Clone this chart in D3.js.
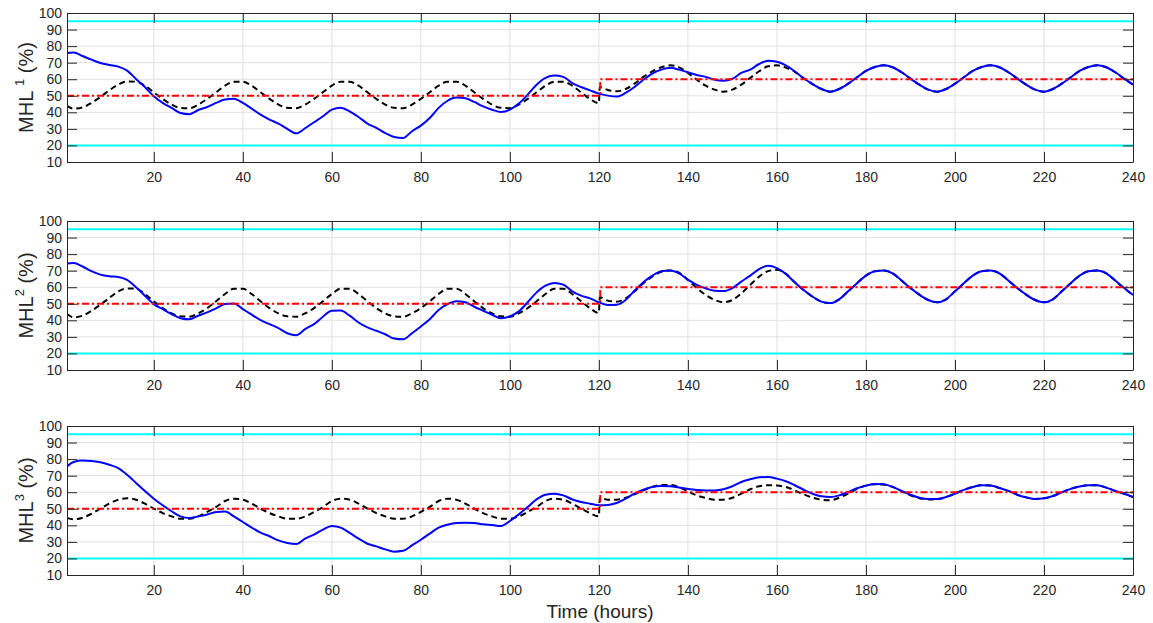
<!DOCTYPE html>
<html>
<head>
<meta charset="utf-8">
<script src="https://cdn.jsdelivr.net/npm/d3@7"></script>
<style>
body { margin: 0; background: #fff; }
svg { display: block; font-family: "Liberation Sans", Arial, sans-serif; }
.axis .domain { stroke: #262626; }
.axis line { stroke: #262626; }
.axis text { fill: #262626; font-size: 14px; font-family: "Liberation Sans", Arial, sans-serif; }
</style>
</head>
<body>
<script>
// sample times (hours) for the measured curves
var hours = [0.5, 2, 4, 6, 8, 10, 12, 14, 16, 18,
    20, 22, 24, 26, 28, 30, 32, 34, 36, 38,
    40, 42, 44, 46, 48, 50, 52, 54, 56, 58,
    60, 62, 64, 66, 68, 70, 72, 74, 76, 78,
    80, 82, 84, 86, 88, 90, 92, 94, 96, 98,
    100, 102, 104, 106, 108, 110, 112, 114, 116, 118,
    120, 122, 124, 126, 128, 130, 132, 134, 136, 138,
    140, 142, 144, 146, 148, 150, 152, 154, 156, 158,
    160, 162, 164, 166, 168, 170, 172, 174, 176, 178,
    180, 182, 184, 186, 188, 190, 192, 194, 196, 198,
    200, 202, 204, 206, 208, 210, 212, 214, 216, 218,
    220, 222, 224, 226, 228, 230, 232, 234, 236, 238,
    240];

// the reference trajectories jump at t = 120, so they get one extra sample
var refHours = [0.5, 2, 4, 6, 8, 10, 12, 14, 16, 18,
    20, 22, 24, 26, 28, 30, 32, 34, 36, 38,
    40, 42, 44, 46, 48, 50, 52, 54, 56, 58,
    60, 62, 64, 66, 68, 70, 72, 74, 76, 78,
    80, 82, 84, 86, 88, 90, 92, 94, 96, 98,
    100, 102, 104, 106, 108, 110, 112, 114, 116, 118,
    120, 120.2, 122, 124, 126, 128, 130, 132, 134, 136, 138,
    140, 142, 144, 146, 148, 150, 152, 154, 156, 158,
    160, 162, 164, 166, 168, 170, 172, 174, 176, 178,
    180, 182, 184, 186, 188, 190, 192, 194, 196, 198,
    200, 202, 204, 206, 208, 210, 212, 214, 216, 218,
    220, 222, 224, 226, 228, 230, 232, 234, 236, 238,
    240];

// MHL 1
var mhl1Actual = [75.9, 76.2, 74, 71.8, 69.8, 68.6, 67.6, 65.2, 60.2, 55.3,
    49.7, 45.7, 42.7, 39.6, 38.9, 41.4, 43.2, 45.7, 47.7, 48.2,
    45.7, 42.2, 38.6, 35.6, 33.2, 30, 27.3, 30.4, 34, 37.6,
    41.6, 42.8, 40.6, 37.2, 33.2, 30.6, 27.5, 25.1, 24.5, 28.6,
    32, 36.6, 42.7, 47, 48.9, 48.5, 46.3, 43.6, 41.6, 40.2,
    41.6, 45.3, 50.7, 56.7, 60.8, 62.2, 61.4, 57.7, 55.3, 53.3,
    51.3, 50.1, 49.5, 51.7, 55.3, 59.7, 63.4, 65.8, 67, 65.8,
    64.2, 62.6, 61.4, 59.7, 59.1, 60.3, 63.8, 65.8, 69.2, 71.2,
    70.6, 68.4, 64.8, 60.6, 57.1, 54.1, 52.5, 54.1, 57.3, 61.2,
    65, 67.4, 68.4, 67.2, 64.2, 60.4, 56.7, 53.7, 52.5, 54.1,
    57.3, 61.2, 65, 67.4, 68.4, 67.2, 64.2, 60.4, 56.7, 53.7,
    52.5, 54.1, 57.3, 61.2, 65, 67.4, 68.4, 67.2, 64.2, 60.4,
    56.7];
var mhl1Ref = [44, 42.2, 43, 45.7, 49.3, 53.3, 56.7, 58.7, 58.5, 56.1,
    52.1, 48.1, 44.7, 42.7, 42.5, 44.7, 48.1, 52.1, 56.1, 58.5,
    58.5, 56.1, 52.1, 48.1, 44.7, 42.7, 42.5, 44.7, 48.1, 52.1,
    56.1, 58.5, 58.5, 56.1, 52.1, 48.1, 44.7, 42.7, 42.5, 44.7,
    48.1, 52.1, 56.1, 58.5, 58.5, 56.1, 52.1, 48.1, 44.7, 42.7,
    42.5, 44.7, 48.1, 52.1, 56.1, 58.5, 58.5, 56.1, 52.1, 48.1,
    45.5, 55.3, 53.5, 52.7, 54.1, 57.3, 61.4, 64.8, 67.2, 68.4, 67.2,
    63.8, 59.7, 56.1, 53.7, 52.5, 53.7, 56.7, 60.8, 64.8, 67.8,
    68.4, 67, 64.5, 60.6, 57.1, 54.1, 52.5, 54.1, 57.3, 61.2,
    65, 67.4, 68.4, 67.2, 64.2, 60.4, 56.7, 53.7, 52.5, 54.1,
    57.3, 61.2, 65, 67.4, 68.4, 67.2, 64.2, 60.4, 56.7, 53.7,
    52.5, 54.1, 57.3, 61.2, 65, 67.4, 68.4, 67.2, 64.2, 60.4,
    56.7];

// MHL 2
var mhl2Actual = [74.3, 74.6, 72.5, 69.7, 67.6, 66.6, 66.2, 64.4, 60, 54.9,
    49.8, 46.8, 43.8, 41.3, 40.6, 42.8, 44.8, 47.2, 49.8, 50.2,
    46.8, 43.4, 40.1, 37.7, 35.3, 32.2, 31, 34.7, 37.7, 42.2,
    45.8, 45.9, 42.8, 38.7, 35.7, 33.7, 31.6, 29, 28.5, 32.2,
    36.3, 40.7, 46.2, 49.8, 51.5, 50.9, 48.2, 45.8, 43.4, 41.3,
    42.4, 45.4, 50.9, 56.9, 61, 62.6, 61.6, 57.5, 54.9, 53.3,
    50.9, 49.2, 49.4, 52.3, 57.9, 63, 67, 69.7, 70.1, 68.4,
    64.6, 61.4, 59.3, 57.9, 57.7, 59.5, 63.4, 67, 71, 72.9,
    71.5, 68, 63, 58.3, 54.3, 51.3, 50.4, 52.7, 57.5, 62.4,
    67, 69.7, 70.1, 68.4, 64, 59.5, 55.5, 52.3, 50.9, 52.7,
    57.5, 62.4, 67, 69.7, 70.1, 68.4, 64, 59.5, 55.5, 52.3,
    50.9, 52.7, 57.5, 62.4, 67, 69.7, 70.1, 68.4, 64, 59.5,
    55.3];
var mhl2Ref = [43.8, 41.8, 42.8, 45.8, 49.4, 53.5, 57.5, 59.3, 59.1, 55.9,
    51.5, 47.4, 44.2, 42.4, 42.2, 44.2, 47.4, 51.5, 55.9, 59.1,
    59.1, 55.9, 51.5, 47.4, 44.2, 42.4, 42.2, 44.2, 47.4, 51.5,
    55.9, 59.1, 59.1, 55.9, 51.5, 47.4, 44.2, 42.4, 42.2, 44.2,
    47.4, 51.5, 55.9, 59.1, 59.1, 55.9, 51.5, 47.4, 44.2, 42.4,
    42.2, 44.2, 47.4, 51.5, 55.9, 59.1, 59.1, 55.9, 51.5, 47.4,
    44.4, 53.9, 51.9, 51.3, 53.3, 57.5, 62.4, 66.4, 69.3, 70.1, 68.8,
    64.4, 59.5, 55.3, 52.3, 50.9, 52.3, 56.3, 61.4, 66.4, 69.7,
    70.5, 68.2, 63, 58.3, 54.3, 51.3, 50.4, 52.7, 57.5, 62.4,
    67, 69.7, 70.1, 68.4, 64, 59.5, 55.5, 52.3, 50.9, 52.7,
    57.5, 62.4, 67, 69.7, 70.1, 68.4, 64, 59.5, 55.5, 52.3,
    50.9, 52.7, 57.5, 62.4, 67, 69.7, 70.1, 68.4, 64, 59.5,
    55.3];

// MHL 3
var mhl3Actual = [75.6, 78.3, 79.1, 78.9, 78.1, 76.6, 74.6, 70.6, 65.6, 60.7,
    56.1, 52.1, 48.5, 45.4, 44.4, 45.4, 46.6, 48.1, 48.3, 45.4,
    42, 38.6, 35.6, 33.4, 30.9, 29.3, 28.7, 32, 34.4, 37.4,
    39.6, 38.6, 35.4, 32, 28.9, 27.3, 25.5, 24.1, 24.6, 27.9,
    31.3, 35, 38.6, 40.4, 41.4, 41.6, 41.4, 40.6, 40.2, 39.6,
    42.6, 46.6, 51.1, 55.7, 58.5, 59.1, 58.1, 55.7, 54.1, 53.1,
    52.1, 52.3, 53.5, 56.1, 59.1, 61.5, 63.2, 63.8, 63.6, 62.8,
    62, 61.4, 61.1, 61.1, 61.8, 63.6, 66.2, 67.8, 69, 69.2,
    68.2, 66.6, 64.2, 61.5, 59.1, 57.5, 57.1, 58.1, 60.1, 62.4,
    64, 65, 64.8, 63.2, 60.8, 58.5, 56.7, 55.9, 55.9, 57.1,
    59.1, 61.4, 63.2, 64.2, 64, 62.6, 60.8, 58.5, 56.9, 55.9,
    56.3, 57.7, 59.9, 62, 63.4, 64.2, 64.2, 62.8, 60.8, 59.1,
    57.1];
var mhl3Ref = [44.4, 43.6, 44.6, 47, 50.1, 53.1, 55.5, 56.3, 55.5, 53.1,
    50.1, 47.4, 45.4, 44, 44, 45.4, 48.1, 51.1, 54.7, 56.1,
    55.5, 53.1, 50.1, 47.4, 45.4, 44, 44, 45.4, 48.1, 51.1,
    54.7, 56.1, 55.5, 53.1, 50.1, 47.4, 45.4, 44, 44, 45.4,
    48.1, 51.1, 54.7, 56.1, 55.5, 53.1, 50.1, 47.4, 45.4, 44,
    44, 45.4, 48.1, 51.1, 54.7, 56.1, 55.5, 53.1, 50.1, 47.4,
    45.4, 56.7, 55.5, 55.5, 56.7, 58.7, 61.1, 63.2, 64.4, 64.4, 63.2,
    60.5, 58.1, 56.5, 55.5, 55.5, 56.7, 59.1, 61.8, 63.6, 64.2,
    64, 63.2, 61.1, 58.7, 56.7, 55.5, 55.1, 56.7, 59.1, 62,
    64, 64.8, 64.6, 63.2, 60.6, 58.2, 56.4, 55.6, 55.7, 57.1,
    59.1, 61.4, 63.2, 64.2, 64, 62.6, 60.8, 58.5, 56.9, 55.9,
    56.3, 57.7, 59.9, 62, 63.4, 64.2, 64.2, 62.8, 60.8, 59.1,
    57.1];

// setpoint (step at t = 120) and the two limits
var setHours = [0.5, 120.3, 120.3, 240];
var setValues = [50, 50, 60, 60];
var upperLimit = 95;
var lowerLimit = 20;

var xTicks = [20, 40, 60, 80, 100, 120, 140, 160, 180, 200, 220, 240];
var yTicks = [10, 20, 30, 40, 50, 60, 70, 80, 90, 100];

var panels = [
    {name: "MHL ", sup: "1", actual: mhl1Actual, ref: mhl1Ref},
    {name: "MHL", sup: "2", actual: mhl2Actual, ref: mhl2Ref},
    {name: "MHL", sup: "3", actual: mhl3Actual, ref: mhl3Ref}
];

var width = 1153, height = 623;
var plotLeft = 67, plotRight = 1133;
var panelTops = [13, 221, 426];
var panelH = 149;
var tickLen = 10;

var svg = d3.select("body").append("svg")
    .attr("width", width)
    .attr("height", height);

svg.append("rect")
    .attr("width", width)
    .attr("height", height)
    .attr("fill", "#fff");

var x = d3.scaleLinear().domain([0.5, 240]).range([plotLeft, plotRight]);

function pairs(xs, ys) {
    return xs.map(function(h, i) { return [h, ys[i]]; });
}

panels.forEach(function(p, i) {
    var top = panelTops[i];
    var bottom = top + panelH;
    var y = d3.scaleLinear().domain([10, 100]).range([bottom, top]);

    var g = svg.append("g");

    // clip so the curves stay inside the box
    g.append("clipPath")
        .attr("id", "clip" + i)
        .append("rect")
            .attr("x", plotLeft)
            .attr("y", top)
            .attr("width", plotRight - plotLeft)
            .attr("height", panelH);

    // grid
    yTicks.slice(1, -1).forEach(function(v) {
        g.append("line")
            .attr("x1", plotLeft).attr("x2", plotRight)
            .attr("y1", y(v)).attr("y2", y(v))
            .attr("stroke", "#e1e1e1")
            .attr("stroke-width", 1);
    });
    xTicks.slice(0, -1).forEach(function(v) {
        g.append("line")
            .attr("x1", x(v)).attr("x2", x(v))
            .attr("y1", top).attr("y2", bottom)
            .attr("stroke", "#e1e1e1")
            .attr("stroke-width", 1);
    });

    var line = d3.line()
        .x(function(d) { return x(d[0]); })
        .y(function(d) { return y(d[1]); })
        .curve(d3.curveMonotoneX);

    var flat = d3.line()
        .x(function(d) { return x(d[0]); })
        .y(function(d) { return y(d[1]); });

    var lines = g.append("g").attr("clip-path", "url(#clip" + i + ")");

    // reference trajectory (under the actual level where they meet)
    lines.append("path")
        .datum(pairs(refHours, p.ref))
        .attr("d", line)
        .attr("fill", "none")
        .attr("stroke", "#000")
        .attr("stroke-width", 2)
        .attr("stroke-dasharray", "6,4");

    // actual level
    lines.append("path")
        .datum(pairs(hours, p.actual))
        .attr("d", line)
        .attr("fill", "none")
        .attr("stroke", "#0000ff")
        .attr("stroke-width", 2);

    // setpoint
    lines.append("path")
        .datum(pairs(setHours, setValues))
        .attr("d", flat)
        .attr("fill", "none")
        .attr("stroke", "#ff0000")
        .attr("stroke-width", 2)
        .attr("stroke-dasharray", "7,3,2,3");

    // limits
    [upperLimit, lowerLimit].forEach(function(v) {
        lines.append("path")
            .datum([[0.5, v], [240, v]])
            .attr("d", flat)
            .attr("fill", "none")
            .attr("stroke", "#00ffff")
            .attr("stroke-width", 2);
    });

    // axes, ticks pointing inward on all four sides
    g.append("g")
        .attr("class", "axis")
        .attr("transform", "translate(0," + bottom + ")")
        .call(d3.axisBottom(x).tickValues(xTicks).tickSizeInner(-tickLen).tickSizeOuter(0).tickPadding(10));

    g.append("g")
        .attr("class", "axis")
        .attr("transform", "translate(0," + top + ")")
        .call(d3.axisTop(x).tickValues(xTicks).tickSizeInner(-tickLen).tickSizeOuter(0).tickFormat(""));

    g.append("g")
        .attr("class", "axis")
        .attr("transform", "translate(" + plotLeft + ",0)")
        .call(d3.axisLeft(y).tickValues(yTicks).tickSizeInner(-tickLen).tickSizeOuter(0).tickPadding(5));

    g.append("g")
        .attr("class", "axis")
        .attr("transform", "translate(" + plotRight + ",0)")
        .call(d3.axisRight(y).tickValues(yTicks).tickSizeInner(-tickLen).tickSizeOuter(0).tickFormat(""));

    // y label with superscript
    var label = g.append("text")
        .attr("transform", "translate(33," + (top + panelH / 2) + ") rotate(-90)")
        .attr("text-anchor", "middle")
        .attr("fill", "#262626")
        .style("font-size", "20px");
    label.append("tspan").text(p.name);
    label.append("tspan")
        .attr("dy", -9)
        .style("font-size", "13px")
        .text(p.sup);
    label.append("tspan")
        .attr("dy", 9)
        .text(" (%)");
});

svg.append("text")
    .attr("x", (plotLeft + plotRight) / 2)
    .attr("y", 618)
    .attr("text-anchor", "middle")
    .attr("fill", "#262626")
    .style("font-size", "19px")
    .text("Time (hours)");
</script>
</body>
</html>
